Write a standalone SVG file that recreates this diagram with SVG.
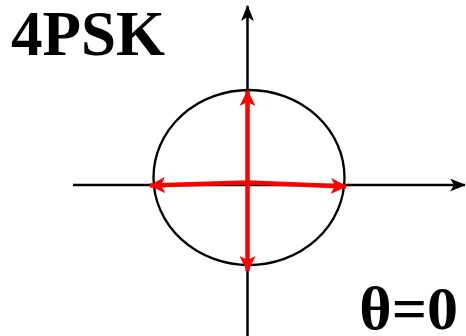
<svg xmlns="http://www.w3.org/2000/svg" width="466" height="336" viewBox="0 0 466 336">
<style>
.lbl{font-family:"Liberation Serif","Times New Roman",serif;font-weight:bold;fill:#000}
.axis{stroke:#000;stroke-width:2.5;fill:none}
.vec{stroke:#ff0000;stroke-width:4.5;fill:none}
</style>
<defs>
<marker id="ka" viewBox="0 0 16 13" refX="15" refY="6.5" markerWidth="16" markerHeight="13" markerUnits="userSpaceOnUse" orient="auto">
<path d="M0,0 L16,6.5 L0,13 L4,6.5 Z" fill="#000"/>
</marker>
<marker id="ra" viewBox="0 0 16 16" refX="15" refY="8" markerWidth="16" markerHeight="16" markerUnits="userSpaceOnUse" orient="auto">
<path d="M0,0 L16,8 L0,16 L4,8 Z" fill="#ff0000"/>
</marker>
</defs>
<g id="title"><text class="lbl" x="11" y="55" font-size="63">4PSK</text></g>
<g id="theta"><text class="lbl" x="458" y="329" font-size="62" text-anchor="end">θ=0</text></g>
<g id="circle"><ellipse cx="249" cy="177.5" rx="95.5" ry="87.5" fill="none" stroke="#000" stroke-width="2.3"/></g>
<g id="connectors">
<line class="axis" x1="73" y1="185" x2="465" y2="185" marker-end="url(#ka)"/>
<line class="axis" x1="247.5" y1="336" x2="247.5" y2="6" marker-end="url(#ka)"/>
<line class="vec" x1="247.5" y1="184" x2="247.5" y2="91" marker-end="url(#ra)"/>
<line class="vec" x1="247.5" y1="184" x2="247.5" y2="271" marker-end="url(#ra)"/>
<line class="vec" x1="247.5" y1="182.5" x2="150" y2="185.5" marker-end="url(#ra)"/>
<line class="vec" x1="247.5" y1="182.5" x2="346" y2="186.5" marker-end="url(#ra)"/>
</g>
</svg>
